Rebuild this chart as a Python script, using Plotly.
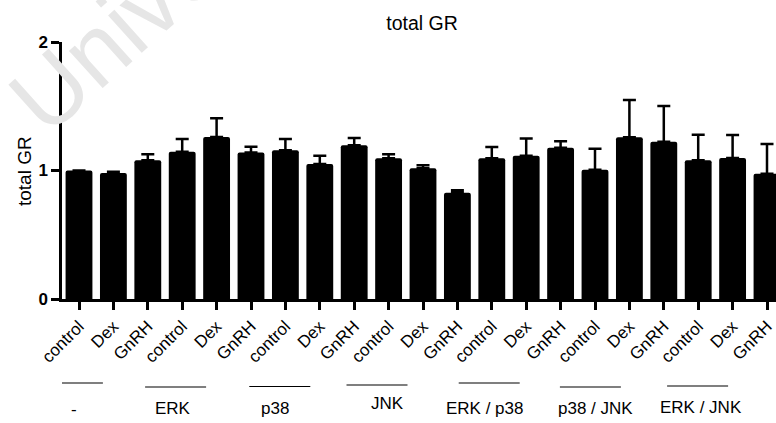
import plotly.graph_objects as go

# ---------------- data ----------------
chart_title = "total GR"
y_title = "total GR"
treatments = ["control", "Dex", "GnRH"]
groups = ["-", "ERK", "p38", "JNK", "ERK / p38", "p38 / JNK", "ERK / JNK"]
tick_labels = treatments * len(groups)
means = [1.00, 0.98, 1.08, 1.146, 1.26, 1.14,
         1.157, 1.05, 1.196, 1.095, 1.017, 0.827,
         1.095, 1.115, 1.178, 1.006, 1.258, 1.224,
         1.079, 1.097, 0.975]
errors = [0.0, 0.01, 0.046, 0.10, 0.146, 0.045,
          0.088, 0.065, 0.057, 0.031, 0.023, 0.019,
          0.088, 0.135, 0.049, 0.164, 0.291, 0.278,
          0.20, 0.179, 0.231]
y_ticks = [0, 1, 2]

# ---------------- geometry ----------------
W, H = 776, 423
ML, MR, MT, MB = 62, 0, 42, 124
plot_w = W - ML - MR
plot_h = H - MT - MB
x_first_px = 79.0
unit_px = 34.4
x_lo = -(x_first_px - ML) / unit_px
x_hi = x_lo + plot_w / unit_px
FONT = "Liberation Sans, Arial, sans-serif"


def py(ypx):
    """pixel y -> paper y"""
    return (H - MB - ypx) / plot_h


def px(xpx):
    return (xpx - ML) / plot_w


x = list(range(len(means)))

fig = go.Figure(go.Bar(
    x=x, y=means, width=0.78,
    marker=dict(color="black", line=dict(width=0), cornerradius=2),
    error_y=dict(type="data", symmetric=False, array=errors,
                 arrayminus=[0] * len(errors), color="black",
                 thickness=2.5, width=6.5),
))

shapes = []
annotations = []
# watermark (drawn first so it sits beneath the other texts)
annotations.append(dict(xref="paper", yref="paper", x=px(180), y=py(-26),
                        text="University", textangle=-42, showarrow=False,
                        xanchor="center", yanchor="middle",
                        font=dict(family=FONT, size=95, color="#e6e6e6")))
# group bracket lines & labels (positions in pixels, below the axis)
line_y = [383, 387, 386.5, 385, 383, 387, 386]
label_y = [409, 408, 408, 403, 408, 408, 407]
label_dx = [-39, -44, -45, -36, -41, -34, -32]
line_dx = [-41, -41, -40, -46, -37, -39, -35]
for g, name in enumerate(groups):
    center = 3 * g + 1
    lc = center + line_dx[g] / unit_px
    half = 30.5 / unit_px
    shapes.append(dict(type="line", xref="x", yref="paper",
                       x0=lc - half, x1=lc + half,
                       y0=py(line_y[g]), y1=py(line_y[g]),
                       line=dict(color="black", width=1.2)))
    annotations.append(dict(xref="x", yref="paper",
                            x=center + label_dx[g] / unit_px,
                            y=py(label_y[g]), text=name, showarrow=False,
                            xanchor="center", yanchor="middle",
                            font=dict(family=FONT, size=17, color="black")))

# y axis title
annotations.append(dict(xref="paper", yref="paper", x=px(24), y=py(171),
                        text=y_title, textangle=-90, showarrow=False,
                        xanchor="center", yanchor="middle",
                        font=dict(family=FONT, size=19, color="black")))

fig.update_layout(
    width=W, height=H,
    margin=dict(l=ML, r=MR, t=MT, b=MB, pad=0),
    paper_bgcolor="white", plot_bgcolor="rgba(0,0,0,0)",
    showlegend=False,
    font=dict(family=FONT, color="black"),
    title=dict(text=chart_title, x=422 / W, xanchor="center",
               y=1 - 23 / H, yanchor="middle",
               font=dict(family=FONT, size=19.5, color="black")),
    xaxis=dict(range=[x_lo, x_hi], tickmode="array", tickvals=x,
               ticktext=tick_labels, tickangle=-45,
               tickfont=dict(family=FONT, size=17, color="black"),
               showline=True, linecolor="black", linewidth=2.5,
               ticks="outside", ticklen=8, tickwidth=2.5, tickcolor="black",
               showgrid=False, zeroline=False, fixedrange=True),
    yaxis=dict(range=[0, 2], tickmode="array", tickvals=y_ticks,
               tickfont=dict(family=FONT, size=17, color="black", weight="bold"),
               showline=True, linecolor="black", linewidth=2.5,
               ticks="outside", ticklen=8, tickwidth=2.5, tickcolor="black",
               showgrid=False, zeroline=False, fixedrange=True),
    shapes=shapes,
    annotations=annotations,
)

fig.write_html("out.html", config={"displayModeBar": False},
               post_script="document.body.style.margin='0';")
